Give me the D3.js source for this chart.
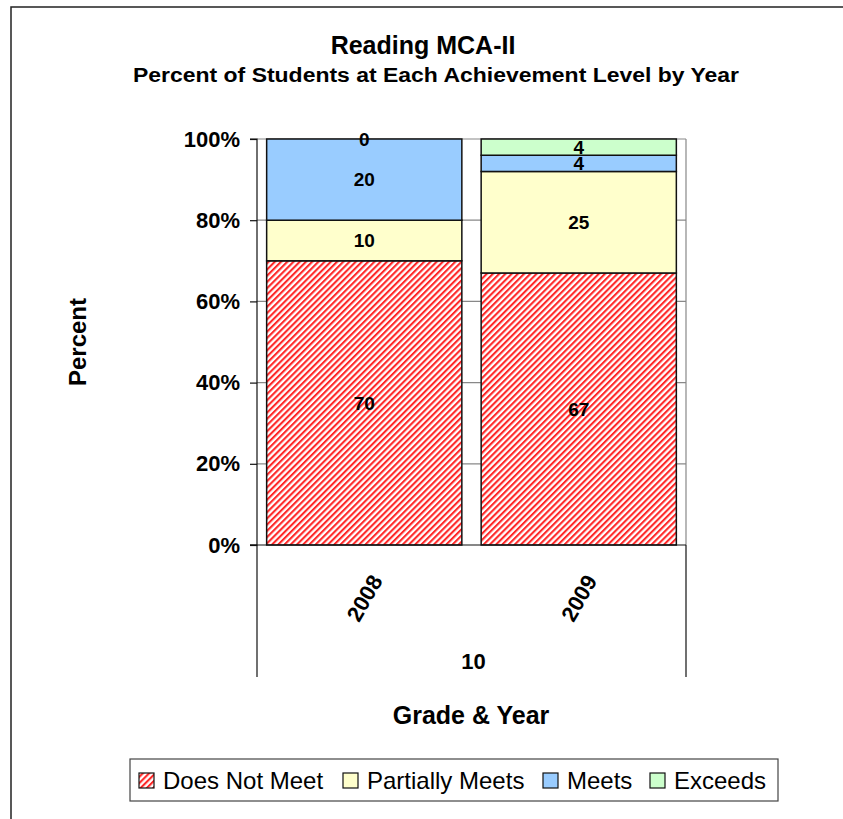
<!DOCTYPE html>
<html><head><meta charset="utf-8">
<script src="https://cdn.jsdelivr.net/npm/d3@7"></script>
<style>body{margin:0;background:#fff}svg{display:block}text{font-family:Arial,"Liberation Sans",sans-serif}</style>
</head><body><div id="chart"></div>
<script>
const years = ["2008", "2009"];
const grade = "10";
const seriesNames = ["Does Not Meet", "Partially Meets", "Meets", "Exceeds"];
const doesNotMeet = [70, 67];
const partiallyMeets = [10, 25];
const meets = [20, 4];
const exceeds = [0, 4];
const yTicks = [0, 20, 40, 60, 80, 100];
const seriesFill = ["url(#hatch)", "#FFFFCC", "#99CCFF", "#CCFFCC"];

(function () {
const W = 843, H = 819;
const svg = d3.select("#chart").append("svg").attr("width", W).attr("height", H);
const defs = svg.append("defs");
const pat = defs.append("pattern").attr("id", "hatch").attr("patternUnits", "userSpaceOnUse")
  .attr("width", 4.4).attr("height", 4.4).attr("patternTransform", "rotate(45)");
pat.append("rect").attr("width", 4.4).attr("height", 4.4).attr("fill", "#fff");
pat.append("rect").attr("x", 0).attr("y", 0).attr("width", 2.1).attr("height", 4.4).attr("fill", "#FF2828");

// outer border
svg.append("rect").attr("x", 11).attr("y", 7).attr("width", W + 20).attr("height", H + 20)
  .attr("fill", "none").attr("stroke", "#222").attr("stroke-width", 1.5);

const pL = 257, pR = 686, pT = 139, pB = 545;
const x = d3.scaleBand().domain(years).range([pL, pR]).paddingInner(0.09).paddingOuter(0.045);
const y = d3.scaleLinear().domain([0, 100]).range([pB, pT]);

const rows = years.map((yr, i) => ({year: yr, vals: [doesNotMeet[i], partiallyMeets[i], meets[i], exceeds[i]]}));
const stack = d3.stack().keys([0, 1, 2, 3]).value((d, k) => d.vals[k]);
const stacked = stack(rows);

// gridlines
svg.append("g").selectAll("line").data(yTicks.filter(t => t > 0)).join("line")
  .attr("x1", pL).attr("x2", pR).attr("y1", d => y(d)).attr("y2", d => y(d))
  .attr("stroke", "#888").attr("stroke-width", 1.2);
svg.append("line").attr("x1", pR).attr("x2", pR).attr("y1", pT).attr("y2", pB)
  .attr("stroke", "#888").attr("stroke-width", 1.2);

// bars
const g = svg.append("g");
stacked.forEach((s, si) => {
  g.selectAll(null).data(s).join("rect")
    .attr("x", d => x(d.data.year)).attr("width", x.bandwidth())
    .attr("y", d => y(d[1])).attr("height", d => y(d[0]) - y(d[1]))
    .attr("fill", seriesFill[si]).attr("stroke", "#111").attr("stroke-width", 1.5);
});
stacked.forEach((s, si) => {
  g.selectAll(null).data(s).join("text")
    .attr("x", d => x(d.data.year) + x.bandwidth() / 2)
    .attr("y", d => (y(d[0]) + y(d[1])) / 2)
    .attr("dy", "0.36em").attr("text-anchor", "middle")
    .attr("font-size", 19).attr("font-weight", "bold").attr("fill", "#000")
    .text(d => d.data.vals[si]);
});

// y axis
const yAxis = d3.axisLeft(y).tickValues(yTicks).tickFormat(d => d + "%").tickSize(7).tickPadding(10);
const ya = svg.append("g").attr("transform", `translate(${pL},0)`).call(yAxis);
ya.select(".domain").attr("stroke", "#111").attr("stroke-width", 1.2).attr("d", `M-7,${pT}H0V${pB}H-7`);
ya.selectAll(".tick line").attr("stroke", "#111").attr("stroke-width", 1.2);
ya.selectAll(".tick text").attr("font-size", 22).attr("font-weight", "bold").attr("fill", "#000")
  .attr("font-family", "Arial, 'Liberation Sans', sans-serif");

// category axis box
const catBottom = 677;
svg.append("line").attr("x1", pL - 7).attr("x2", pR).attr("y1", pB).attr("y2", pB).attr("stroke", "#111").attr("stroke-width", 1.2);
svg.append("line").attr("x1", pL).attr("x2", pL).attr("y1", pB).attr("y2", catBottom).attr("stroke", "#111").attr("stroke-width", 1.2);
svg.append("line").attr("x1", pR).attr("x2", pR).attr("y1", pB).attr("y2", catBottom).attr("stroke", "#111").attr("stroke-width", 1.2);

svg.append("g").selectAll("text").data(years).join("text")
  .attr("transform", d => `translate(${x(d) + x.bandwidth() / 2},598) rotate(-60)`)
  .attr("text-anchor", "middle").attr("dy", "0.36em")
  .attr("font-size", 22).attr("font-weight", "bold").text(d => d);
svg.append("text").attr("x", (pL + pR) / 2 + 2).attr("y", 669).attr("text-anchor", "middle")
  .attr("font-size", 22).attr("font-weight", "bold").text(grade);

// titles
svg.append("text").attr("x", 423).attr("y", 54).attr("text-anchor", "middle")
  .attr("font-size", 25).attr("font-weight", "bold").text("Reading MCA-II");
svg.append("text").attr("x", 436).attr("y", 82).attr("text-anchor", "middle")
  .attr("font-size", 20).attr("font-weight", "bold")
  .attr("textLength", 606).attr("lengthAdjust", "spacingAndGlyphs")
  .text("Percent of Students at Each Achievement Level by Year");
svg.append("text").attr("transform", "translate(86,342) rotate(-90)").attr("text-anchor", "middle")
  .attr("font-size", 24).attr("font-weight", "bold").text("Percent");
svg.append("text").attr("x", 471).attr("y", 724).attr("text-anchor", "middle")
  .attr("font-size", 25).attr("font-weight", "bold").text("Grade & Year");

// legend
const lg = svg.append("g");
lg.append("rect").attr("x", 130).attr("y", 759).attr("width", 648).attr("height", 42)
  .attr("fill", "#fff").attr("stroke", "#444").attr("stroke-width", 1.2);
const itemX = [139, 343, 543, 650];
seriesNames.forEach((n, i) => {
  lg.append("rect").attr("x", itemX[i]).attr("y", 773).attr("width", 15).attr("height", 15)
    .attr("fill", seriesFill[i]).attr("stroke", "#111").attr("stroke-width", 1.2);
  lg.append("text").attr("x", itemX[i] + 24).attr("y", 789).attr("font-size", 24).text(n);
});
})();
</script></body></html>
